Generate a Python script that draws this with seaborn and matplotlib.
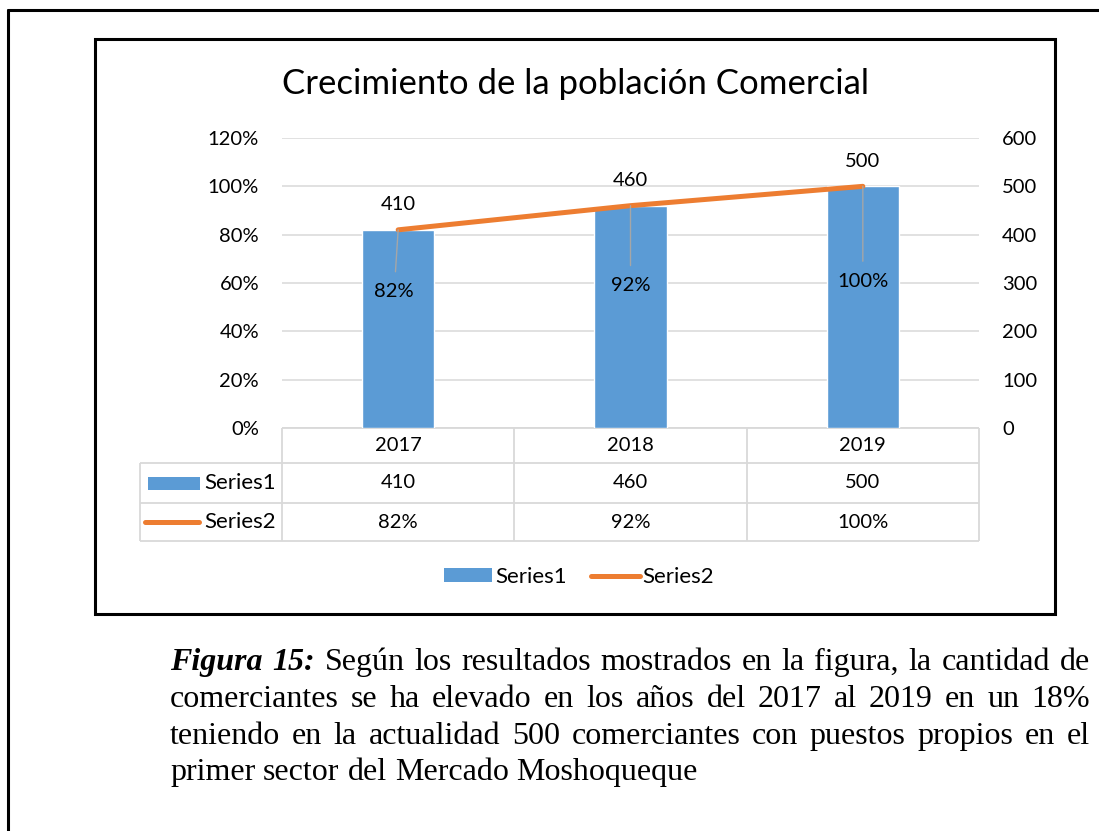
import numpy as np
import pandas as pd
import matplotlib
matplotlib.use("Agg")
import matplotlib.pyplot as plt
import matplotlib.transforms as mtransforms
from matplotlib.patches import Rectangle, Patch
from matplotlib.lines import Line2D
import seaborn as sns

# ---------------- data ----------------
years = ["2017", "2018", "2019"]
series1 = [410, 460, 500]                 # bars (right scale)
series2 = [0.82, 0.92, 1.00]              # line (left scale)
series1_labels = ["410", "460", "500"]
series2_labels = ["82%", "92%", "100%"]
left_ticks = [0, 0.2, 0.4, 0.6, 0.8, 1.0, 1.2]
left_ticklabels = ["0%", "20%", "40%", "60%", "80%", "100%", "120%"]
right_ticks = [0, 100, 200, 300, 400, 500, 600]
series_names = ["Series1", "Series2"]
title = "Crecimiento de la población Comercial"
caption_lines = [
    "Figura 15: Según los resultados mostrados en la figura, la cantidad de",
    "comerciantes se ha elevado en los años del 2017 al 2019 en un 18%",
    "teniendo en la actualidad 500 comerciantes con puestos propios en el",
    "primer sector del Mercado Moshoqueque",
]

# ---------------- style ----------------
BLUE = "#5B9BD5"
ORANGE = "#ED7D31"
GRID = "#D9D9D9"
LEADER = "#A6A6A6"
SANS = ["Lato", "DejaVu Sans"]
SERIF = ["Liberation Serif", "DejaVu Serif"]
FS = 14.5
FS_NAME = 16

sns.set_style("white")
plt.rcParams["font.family"] = SANS
plt.rcParams["text.color"] = "#000000"

W, H = 1099, 831
fig = plt.figure(figsize=(W / 100, H / 100), dpi=100)

# overlay in pixel coordinates (y downward)
ov = fig.add_axes([0, 0, 1, 1], zorder=0)
ov.set_xlim(0, W)
ov.set_ylim(H, 0)
ov.axis("off")

# plot area
L, R, T, B = 282, 979, 138, 428
ax = fig.add_axes([L / W, 1 - B / H, (R - L) / W, (B - T) / H], zorder=2)
ax2 = ax.twinx()

sns.barplot(x=years, y=series1, ax=ax, color=BLUE, saturation=1, width=0.31, zorder=2)
sns.pointplot(x=years, y=series2, ax=ax2, color=ORANGE, markers="", errorbar=None,
              linewidth=3.6, solid_capstyle="round")

ax.set_xlim(-0.5, 2.5)
ax2.set_xlim(-0.5, 2.5)
ax.set_ylim(0, 600)
ax2.set_ylim(0, 1.2)

ax.yaxis.tick_right()
ax2.yaxis.tick_left()
ax.set_yticks(right_ticks)
ax.set_yticklabels([str(v) for v in right_ticks])
ax2.set_yticks(left_ticks)
ax2.set_yticklabels(left_ticklabels)
for a in (ax, ax2):
    a.tick_params(axis="y", length=0, labelsize=FS, colors="#000000", pad=16.5)
    a.tick_params(axis="x", length=0, labelbottom=False)
    a.set_xlabel("")
    a.set_ylabel("")
    for s in a.spines.values():
        s.set_visible(False)
    a.patch.set_visible(False)
ax.tick_params(axis="y", labelright=True, labelleft=False)
ax2.tick_params(axis="y", labelleft=True, labelright=False)
for lab in ax.get_yticklabels():
    lab.set_horizontalalignment("left")
ax.yaxis.grid(True, color=GRID, lw=1.1)
ax.set_axisbelow(True)

# data labels
for i, (v, lab) in enumerate(zip(series1, series1_labels)):
    ax.annotate(lab, xy=(i, v), xytext=(0, 25), textcoords="offset pixels",
                ha="center", va="center", fontsize=FS)
pct_offsets = [(-4, -62), (0, -80), (0, -95)]
for i, (v, lab) in enumerate(zip(series2, series2_labels)):
    ax2.annotate(lab, xy=(i, v), xytext=pct_offsets[i], textcoords="offset pixels",
                 ha="center", va="center", fontsize=FS,
                 arrowprops=dict(arrowstyle="-", color=LEADER, lw=1.0,
                                 shrinkA=6, shrinkB=0))

# ---------------- frames ----------------
ov.add_line(Line2D([8, W + 5], [10, 10], color="black", lw=2.2))
ov.add_line(Line2D([8, 8], [10, H + 5], color="black", lw=2.2))
ov.add_patch(Rectangle((95, 39), 1055 - 95, 614 - 39, fill=False, ec="black", lw=2.2))

ov.text(575, 84, title, ha="center", va="center", fontsize=25)

# ---------------- data table ----------------
bt = mtransforms.blended_transform_factory(ax.transData, ov.transData)
rows_y = [428, 463, 503, 541]
tab_kw = dict(color=GRID, lw=1.3, solid_capstyle="butt")
ov.add_line(Line2D([-0.5, 2.5], [rows_y[0]] * 2, transform=bt, **tab_kw))
for y in rows_y[1:]:
    x_right = bt.transform((2.5, y))[0]
    ov.add_line(Line2D([140, x_right], [y, y], **tab_kw))
for xb in [-0.5, 0.5, 1.5, 2.5]:
    ov.add_line(Line2D([xb, xb], [rows_y[0], rows_y[-1]], transform=bt, **tab_kw))
ov.add_line(Line2D([140, 140], [rows_y[1], rows_y[-1]], **tab_kw))

row_mid = [(rows_y[k] + rows_y[k + 1]) / 2 for k in range(3)]
for i, yr in enumerate(years):
    ov.text(i, row_mid[0], yr, transform=bt, ha="center", va="center", fontsize=FS)
    ov.text(i, row_mid[1], series1_labels[i], transform=bt, ha="center", va="center", fontsize=FS)
    ov.text(i, row_mid[2], series2_labels[i], transform=bt, ha="center", va="center", fontsize=FS)

ov.add_patch(Rectangle((148, row_mid[1] - 6.5), 52, 13, color=BLUE, lw=0))
ov.add_line(Line2D([145, 199], [row_mid[2], row_mid[2]], color=ORANGE, lw=3.6,
                   solid_capstyle="round"))
ov.text(204, row_mid[1], series_names[0], ha="left", va="center", fontsize=FS_NAME)
ov.text(204, row_mid[2], series_names[1], ha="left", va="center", fontsize=FS_NAME)

# ---------------- legend ----------------
handles = [Patch(facecolor=BLUE, edgecolor="none"),
           Line2D([], [], color=ORANGE, lw=3.6, solid_capstyle="round")]
ov.legend(handles, series_names, loc="center", bbox_to_anchor=(579, 577),
          bbox_transform=ov.transData, ncol=2, frameon=False, fontsize=FS_NAME,
          handlelength=2.2, handleheight=0.6, handletextpad=0.12,
          columnspacing=1.1, borderpad=0)

# ---------------- caption (justified) ----------------
fig.canvas.draw()
renderer = fig.canvas.get_renderer()
CFS = 23
x0, x1 = 170, 1090
baselines = [670, 707, 744, 780]
bold_words = 2
for li, line in enumerate(caption_lines):
    words = line.split(" ")
    texts = []
    for wi, w in enumerate(words):
        kw = dict(fontsize=CFS, family=SERIF, va="baseline", ha="left")
        if li == 0 and wi < bold_words:
            kw.update(fontweight="bold", fontstyle="italic")
        texts.append(ov.text(0, baselines[li], w, **kw))
    widths = [t.get_window_extent(renderer).width for t in texts]
    if li < len(caption_lines) - 1:
        gap = (x1 - x0 - sum(widths)) / (len(words) - 1)
    else:
        gap = 0.25 * CFS * 100 / 72
    x = x0
    for t, wd in zip(texts, widths):
        t.set_x(x)
        x += wd + gap

fig.savefig("out.png", dpi=100)
